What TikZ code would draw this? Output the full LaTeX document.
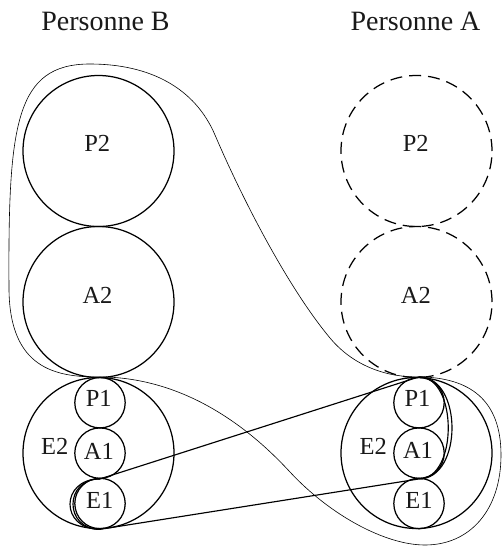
\documentclass[tikz,border=0pt]{standalone}
\usepackage{fontspec}
\setmainfont{Liberation Serif}
\begin{document}
\begin{tikzpicture}[x=1pt,y=-1pt,
  big/.style={circle,draw,line width=1.25pt,minimum size=151pt,inner sep=0pt},
  bigdash/.style={big,dash pattern=on 12pt off 7pt},
  small/.style={circle,draw,line width=1.25pt,minimum size=50.4pt,inner sep=0pt},
  lab/.style={anchor=base,inner sep=0pt,font=\fontsize{24.5}{28}\selectfont,text=black!90},
  head/.style={anchor=base,inner sep=0pt,font=\fontsize{28}{32}\selectfont,text=black!90},
  band/.style={line width=1.15pt},
  hull/.style={line width=0.6pt}]
\useasboundingbox (0,0) rectangle (502,546);
% headers
\node[head] (hB) at (105.5,30.7) {Personne B};
\node[head] (hA) at (415.5,30.7) {Personne A};
% left column (Personne B)
\node[big] (P2L) at (98.5,151) {};
\node[big] (A2L) at (98.5,302) {};
\node[big] (E2L) at (98.5,453) {};
\node[small] (P1L) at (100,402.7) {};
\node[small] (A1L) at (100,453.1) {};
\node[small] (E1L) at (100,503.5) {};
% right column (Personne A)
\node[bigdash] (P2R) at (416.5,151) {};
\node[bigdash] (A2R) at (416.5,302) {};
\node[big] (E2R) at (416.5,453) {};
\node[small] (P1R) at (419,402.7) {};
\node[small] (A1R) at (419,453.1) {};
\node[small] (E1R) at (419,503.5) {};
% labels
\node[lab] (tP2L) at (97.2,151.7) {P2};
\node[lab] (tA2L) at (97.5,303.3) {A2};
\node[lab] (tP2R) at (415.8,151.7) {P2};
\node[lab] (tA2R) at (415.8,303.3) {A2};
\node[lab] (tP1L) at (98.8,406.7) {P1};
\node[lab] (tA1L) at (98.8,459) {A1};
\node[lab] (tE1L) at (99.7,508.3) {E1};
\node[lab] (tE2L) at (54.7,454.3) {E2};
\node[lab] (tE2R) at (373.3,454.3) {E2};
\node[lab] (tP1R) at (417.5,406.5) {P1};
\node[lab] (tA1R) at (418,458.5) {A1};
\node[lab] (tE1R) at (419,508.3) {E1};
% thick band
\draw[band] (A1L.south) -- (P1R.north) .. controls +(39,0) and +(39,0) .. (A1R.south)
  -- (E1L.south) .. controls +(-40,0) and +(-40,0) .. (A1L.south);
\draw[band] (P1R.north) .. controls +(44,0) and +(44,0) .. (A1R.south);
\draw[band] (E1L.south) .. controls +(-36,0) and +(-36,0) .. (A1L.south);
% thin hull
\draw[hull] (P1L.north) .. controls (55,377.5) and (10,368) .. (9,290)
  .. controls (8,125) and (15,64) .. (90,64)
  .. controls (150,64) and (195,88) .. (215,135)
  .. controls (245,205) and (290,290) .. (330,338)
  .. controls (355,368) and (390,377.5) .. (P1R.north)
  .. controls (470,377.5) and (501,400) .. (501,455)
  .. controls (501,510) and (470,545) .. (425,545)
  .. controls (385,545) and (330,515) .. (290,472)
  .. controls (255,434) and (190,377.5) .. (P1L.north);
\end{tikzpicture}
\end{document}
